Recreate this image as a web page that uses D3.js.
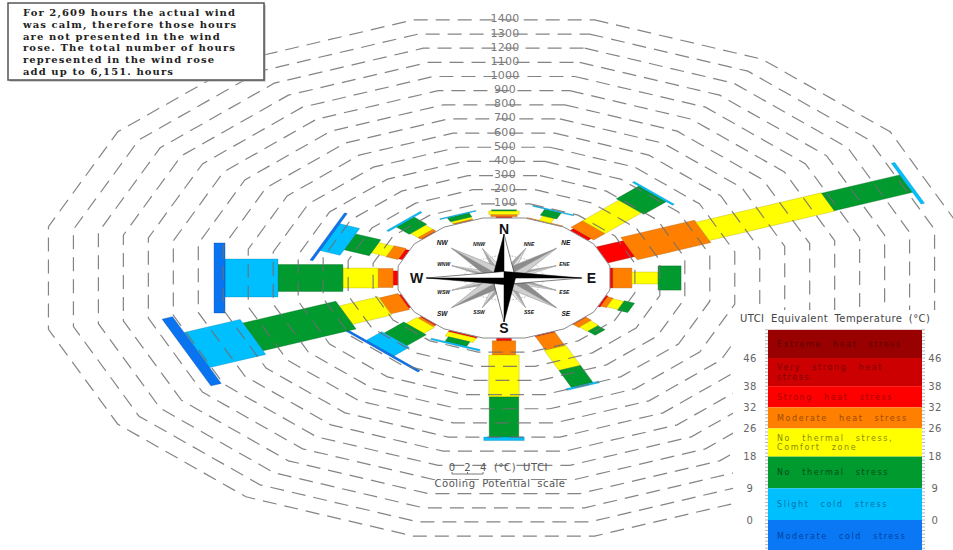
<!DOCTYPE html>
<html><head><meta charset="utf-8">
<script src="https://cdn.jsdelivr.net/npm/d3@7"></script>
<style>body{margin:0;background:#fff}svg{display:block}</style>
</head><body>
<svg id="c" width="953" height="550"></svg>
<script>
// ---------------- DATA ----------------
const directions = ["N","NNE","NE","ENE","E","ESE","SE","SSE","S","SSW","SW","WSW","W","WNW","NW","NNW"];
const ringValues = [100,200,300,400,500,600,700,800,900,1000,1100,1200,1300,1400];
// hours per wind direction and UTCI category (order of directions)
const hoursStrongHeat   = [10,0,20,118,12,10,5,8,20,12,8,10,20,18,6,4];
const hoursModerateHeat = [15,6,65,319,76,25,30,103,100,0,12,82,60,52,16,6];
const hoursComfort      = [25,36,205,543,105,48,45,153,297,33,60,169,141,65,41,15];
const hoursNoStress     = [8,46,127,339,92,44,40,130,283,35,110,403,260,109,72,30];
const hoursSlightCold   = [0,7,10,15,0,0,0,12,25,10,87,243,212,86,10,6];
const hoursModerateCold = [0,0,0,0,0,0,0,0,0,0,12,45,44,12,0,0];
// cooling potential (°C UTCI) per segment -> bar width
const coolStrongHeat   = [2.0,0,3.2,3.9,4.5,2.7,2.3,2.7,1.9,3.9,2.7,3.2,3.2,2.3,2.3,2.3];
const coolModerateHeat = [3.4,5.0,4.1,5.5,4.5,2.3,2.3,2.7,3.0,0,2.7,3.9,4.3,2.7,2.7,2.7];
const coolComfort      = [3.9,1.6,4.1,4.5,2.7,2.0,2.0,3.0,3.9,3.9,3.2,4.5,4.5,2.5,2.7,2.7];
const coolNoStress     = [3.2,2.3,5.0,4.3,5.5,2.3,1.8,3.0,3.8,3.0,4.1,6.8,6.1,3.9,3.2,3.0];
const coolSlightCold   = [0,5.7,7.3,10.0,0,0,0,4.5,5.2,6.8,5.0,8.6,8.6,6.6,6.1,5.0];
const coolModerateCold = [0,0,0,0,0,0,0,0,0,0,14.5,16.4,15.9,11.6,0,0];
// legend
const legendLabels = ["Extreme heat stress","Very strong heat|stress","Strong heat stress","Moderate heat stress","No thermal stress,|Comfort zone","No thermal stress","Slight cold stress","Moderate cold stress"];
const legendBounds = [54,46,38,32,26,18,9,0,-13];
const legendTicks = [46,38,32,26,18,9,0];
const legendColors = ["#990000","#cc0000","#ff0000","#ff8000","#ffff00","#009a2e","#00bfff","#0a78f5"];
const legendTextColors = ["#5e0000","#7a0000","#a80000","#9a4a00","#8a8a00","#004d16","#0072a6","#003f9e"];
const coolScaleTicks = [0,2,4];
const noteLines = ["For 2,609 hours the actual wind","was calm, therefore those hours","are not presented in the wind","rose. The total number of hours","represented in the wind rose","add up to 6,151. hours"];

// ---------------- SCALES ----------------
const CX = 504, CY = 278, KX = 1.765;
const svg = d3.select("#c");
const x = d3.scaleLinear().domain([-300,300]).range([CX-300*KX, CX+300*KX]);
const y = d3.scaleLinear().domain([-300,300]).range([CY+300, CY-300]);
const r = d3.scaleLinear().domain([0,1400]).range([60,258.1]);
const cw = d3.scaleLinear().domain([0,4]).range([0,17.6]);
const ang = d3.scalePoint().domain(directions).range([0,337.5]);
const rad = d => d*Math.PI/180;
const pt = (R, deg) => [x(R*Math.sin(rad(deg))), y(R*Math.cos(rad(deg)))];
const closed = d3.line().curve(d3.curveLinearClosed);
const polyPts = ap => { const R = ap/Math.cos(rad(11.25)); return d3.range(16).map(i => pt(R, 11.25+22.5*i)); };

const series = [
  {hours:hoursStrongHeat, cool:coolStrongHeat, color:"#ff0000", stroke:"#900"},
  {hours:hoursModerateHeat, cool:coolModerateHeat, color:"#ff8000", stroke:"#a05000"},
  {hours:hoursComfort, cool:coolComfort, color:"#ffff00", stroke:"#aaa000"},
  {hours:hoursNoStress, cool:coolNoStress, color:"#009a2e", stroke:"#006020"},
  {hours:hoursSlightCold, cool:coolSlightCold, color:"#00bfff", stroke:"#0080b0"},
  {hours:hoursModerateCold, cool:coolModerateCold, color:"#0a74f0", stroke:"#0040a0"}
];

// ---------------- BARS ----------------
function seg(th, ra, rb, half){
  const s=Math.sin(rad(th)), c=Math.cos(rad(th));
  return [[ra*s+half*c, ra*c-half*s],[rb*s+half*c, rb*c-half*s],[rb*s-half*c, rb*c+half*s],[ra*s-half*c, ra*c+half*s]]
    .map(([u,v])=>[x(u),y(v)]);
}
const gBars = svg.append("g");
directions.forEach((d,i)=>{
  let h0 = 0;
  series.forEach(s=>{
    const hv = s.hours[i];
    if(hv>0){
      const h1 = h0+hv;
      gBars.append("path").attr("d", closed(seg(ang(d), r(h0), r(h1), cw(s.cool[i])/2)))
        .attr("fill", s.color).attr("stroke", s.stroke).attr("stroke-width",0.5).attr("stroke-opacity",0.7);
      h0 = h1;
    }
  });
});

// ---------------- RINGS ----------------
const gRings = svg.append("g");
ringValues.forEach(v=>{
  gRings.append("path").attr("d", closed(polyPts(r(v)))).attr("fill","none")
    .attr("stroke","#6e6e6e").attr("stroke-width",1.2).attr("stroke-dasharray","14,8").attr("stroke-opacity",0.85);
  gRings.append("text").attr("x", CX+1).attr("y", y(r(v))+2.5).attr("text-anchor","middle")
    .attr("font-family","DejaVu Sans").attr("font-size",11).attr("letter-spacing",0.3).attr("fill","#7a7a7a").text(v);
});

// ---------------- COMPASS ----------------
const gC = svg.append("g");
gC.append("path").attr("d", closed(polyPts(r(0)))).attr("fill","#fff").attr("stroke","#8a8a8a").attr("stroke-width",1);
gC.append("path").attr("d", closed(polyPts(22))).attr("fill","none").attr("stroke","#999").attr("stroke-width",0.7).attr("stroke-dasharray","1.5,1.5");
function starPoint(th, L, hw, dark, light, stroke){
  const tip = pt(L, th), c0 = pt(0,0);
  const left = pt(hw, th-90), right = pt(hw, th+90);
  gC.append("path").attr("d", closed([c0, tip, left])).attr("fill", dark).attr("stroke", stroke).attr("stroke-width",0.5);
  gC.append("path").attr("d", closed([c0, tip, right])).attr("fill", light).attr("stroke", stroke).attr("stroke-width",0.5);
}
directions.forEach((d,i)=>{ if(i%2===1) starPoint(ang(d), 32, 4, "#a8a8a8", "#e0e0e0", "#999"); });
directions.forEach((d,i)=>{ if(i%4===2) starPoint(ang(d), 42, 7, "#8c8c8c", "#cfcfcf", "#888"); });
directions.forEach((d,i)=>{ if(i%4===0) starPoint(ang(d), 44, 6.5, "#000", "#fff", "#000"); });
directions.forEach((d,i)=>{
  const kind = i%4===0 ? 0 : (i%2===0 ? 1 : 2);
  const R = kind===2 ? 37 : 49.5;
  const p = pt(R, ang(d));
  gC.append("text").attr("x",p[0]).attr("y",p[1]).attr("text-anchor","middle").attr("dominant-baseline","central")
    .attr("font-family","Liberation Sans").attr("font-weight","bold")
    .attr("font-style", kind===0 ? "normal" : "italic")
    .attr("font-size", kind===0 ? 14 : (kind===1 ? 6.5 : 5))
    .attr("fill","#111").text(d);
});

// ---------------- COOLING POTENTIAL SCALE ----------------
const gS = svg.append("g");
const sx0 = 452;
coolScaleTicks.forEach(v=>{
  gS.append("text").attr("x", sx0 + cw(v)*KX).attr("y",471).attr("text-anchor","middle")
    .attr("font-family","DejaVu Sans").attr("font-size",10).attr("fill","#555").text(v);
  gS.append("line").attr("x1", sx0 + cw(v)*KX).attr("x2", sx0 + cw(v)*KX).attr("y1",474).attr("y2",472).attr("stroke","#555").attr("stroke-width",0.8);
});
gS.append("line").attr("x1",sx0).attr("x2",sx0+cw(4)*KX).attr("y1",474).attr("y2",474).attr("stroke","#555").attr("stroke-width",0.8);
gS.append("text").attr("x",494).attr("y",471).attr("font-family","DejaVu Sans").attr("font-size",10).attr("letter-spacing",0.6).attr("word-spacing",3).attr("fill","#555").text("(°C) UTCI");
gS.append("text").attr("x",500).attr("y",487).attr("text-anchor","middle").attr("font-family","DejaVu Sans").attr("font-size",10).attr("letter-spacing",0.5).attr("word-spacing",3).attr("fill","#555").text("Cooling Potential scale");

// ---------------- LEGEND ----------------
const gL = svg.append("g");
gL.append("rect").attr("x",733).attr("y",310).attr("width",220).attr("height",240).attr("fill","#fff");
gL.append("text").attr("x",740).attr("y",322).attr("font-family","DejaVu Sans").attr("font-size",10).attr("letter-spacing",0.4).attr("word-spacing",3).attr("fill","#444").text("UTCI Equivalent Temperature (°C)");
const ly = d3.scaleLinear().domain([0,46]).range([520,358]);
const lx0 = 768, lx1 = 922;
legendLabels.forEach((lab,i)=>{
  const top = ly(legendBounds[i]), bot = ly(legendBounds[i+1]);
  gL.append("rect").attr("x",lx0).attr("y",top).attr("width",lx1-lx0).attr("height",bot-top).attr("fill",legendColors[i]);
  const lines = lab.split("|");
  const mid = (top + Math.min(bot,552))/2;
  lines.forEach((ln,j)=>{
    gL.append("text").attr("x",777).attr("y", mid + 3 + (j-(lines.length-1)/2)*9.5)
      .attr("font-family","DejaVu Sans").attr("font-size",8).attr("letter-spacing",1.6).attr("word-spacing",7)
      .attr("fill",legendTextColors[i]).text(ln);
  });
});
d3.range(-13,55,1).forEach(t=>{
  gL.append("line").attr("x1",lx0-3).attr("x2",lx0).attr("y1",ly(t)).attr("y2",ly(t)).attr("stroke","#666").attr("stroke-width",0.5);
  gL.append("line").attr("x1",lx1).attr("x2",lx1+3).attr("y1",ly(t)).attr("y2",ly(t)).attr("stroke","#666").attr("stroke-width",0.5);
});
legendTicks.forEach(t=>{
  [750,935].forEach(xx=>{
    gL.append("text").attr("x",xx).attr("y",ly(t)+3.5).attr("text-anchor","middle").attr("font-family","DejaVu Sans")
      .attr("font-size",10).attr("letter-spacing",0.5).attr("fill","#666").text(t);
  });
});

// ---------------- NOTE BOX ----------------
const gN = svg.append("g");
gN.append("rect").attr("x",9.5).attr("y",4.5).attr("width",256).attr("height",77).attr("fill","#aaa");
gN.append("rect").attr("x",8).attr("y",3).attr("width",256).attr("height",77).attr("fill","#fff").attr("stroke","#555").attr("stroke-width",1.5);
noteLines.forEach((t,i)=>{
  gN.append("text").attr("x",23).attr("y",16+i*11.8).attr("font-family","DejaVu Serif").attr("font-weight","bold")
    .attr("font-size",10).attr("letter-spacing",1.1).attr("fill","#222").text(t);
});
</script>
</body></html>
